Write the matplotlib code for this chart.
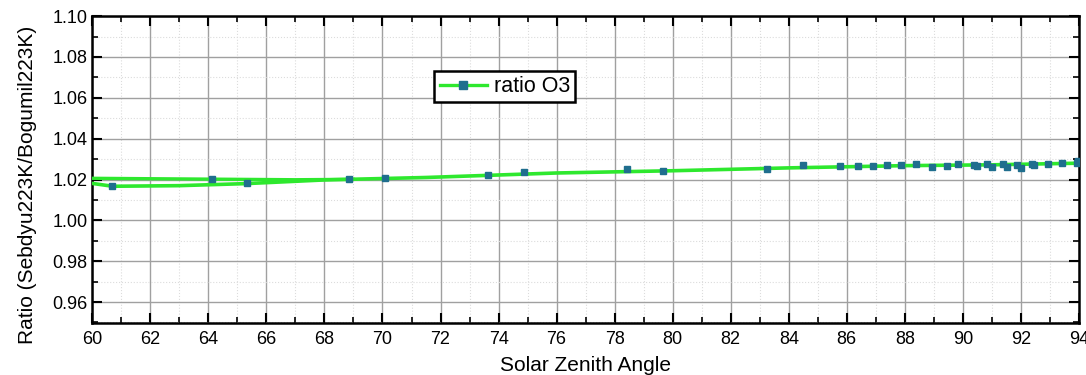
import numpy as np
import matplotlib.pyplot as plt
from matplotlib.lines import Line2D
from matplotlib.ticker import MultipleLocator, FormatStrFormatter

plt.rcParams['font.family'] = ['Liberation Sans', 'DejaVu Sans']

# measured points (markers)
sza = [60.68, 64.12, 65.33, 68.83, 70.08, 73.62, 74.86, 78.42, 79.66, 83.26,
       84.48, 85.75, 86.37, 86.89, 87.37, 87.88, 88.38, 88.92, 89.44, 89.82,
       90.38, 90.47, 90.82, 90.99, 91.37, 91.51, 91.85, 91.99, 92.37, 92.45,
       92.94, 93.40, 93.92, 93.98]
ratio = [1.0166, 1.0202, 1.0181, 1.0202, 1.0206, 1.0222, 1.0238, 1.0250, 1.0242, 1.0252,
         1.0270, 1.0265, 1.0268, 1.0268, 1.0270, 1.0271, 1.0275, 1.0261, 1.0264, 1.0274,
         1.0270, 1.0267, 1.0275, 1.0259, 1.0275, 1.0260, 1.0272, 1.0254, 1.0274, 1.0269,
         1.0277, 1.0279, 1.0282, 1.0293]

# smooth curves
sza_low = [60.0, 60.7, 63.0, 65.3, 68.0, 71.5, 76.0, 80.0, 84.0, 88.0, 91.0, 94.0]
ratio_low = [1.0181, 1.0167, 1.0170, 1.0180, 1.0198, 1.0210, 1.0232, 1.0243, 1.0257, 1.0268, 1.0272, 1.0280]
sza_up = [60.0, 64.0, 67.0, 69.0]
ratio_up = [1.0206, 1.0202, 1.0199, 1.0201]

green = '#2ee82e'
teal = '#1f6e8e'

fig, ax = plt.subplots(figsize=(10.86, 3.75), dpi=100)
fig.subplots_adjust(left=0.085, right=0.9935, bottom=0.14, top=0.957)

ax.plot(sza_up, ratio_up, color=green, lw=2.4, zorder=3)
ax.plot(sza_low, ratio_low, color=green, lw=2.6, zorder=3)
ax.plot(sza, ratio, ls='none', marker='s', ms=4.5, color=teal, zorder=4)

ax.set_xlim(60, 94)
ax.set_ylim(0.95, 1.10)
ax.xaxis.set_major_locator(MultipleLocator(2))
ax.xaxis.set_minor_locator(MultipleLocator(1))
ax.yaxis.set_major_locator(MultipleLocator(0.02))
ax.yaxis.set_minor_locator(MultipleLocator(0.01))
ax.yaxis.set_major_formatter(FormatStrFormatter('%.2f'))

ax.grid(which='major', color='#a0a0a0', lw=1.0, zorder=0)
ax.grid(which='minor', color='#dcdcdc', lw=0.8, ls=':', zorder=0)
ax.set_axisbelow(True)

ax.tick_params(which='both', direction='in', top=True, right=True, labelsize=13, colors='black')
ax.tick_params(axis='x', pad=6)
ax.tick_params(which='major', length=7, width=1.5)
ax.tick_params(which='minor', length=4, width=1.2)
for s in ax.spines.values():
    s.set_linewidth(1.8)

ax.set_xlabel('Solar Zenith Angle', fontsize=15)
ax.set_ylabel('Ratio (Sebdyu223K/Bogumil223K)', fontsize=15)
ax.xaxis.set_label_coords(0.5, -0.11)
ax.yaxis.set_label_coords(-0.056, 0.45)

h = Line2D([], [], color=green, lw=2.4, marker='s', ms=6, mfc=teal, mec=teal)
leg = ax.legend(handles=[h], labels=['ratio O3'], loc='center', bbox_to_anchor=(0.418, 0.77),
                fontsize=15.5, fancybox=False, framealpha=1, edgecolor='black',
                handlelength=2.2, borderpad=0.25, handletextpad=0.3)
leg.get_frame().set_linewidth(1.8)

fig.savefig('out.png', dpi=100)
